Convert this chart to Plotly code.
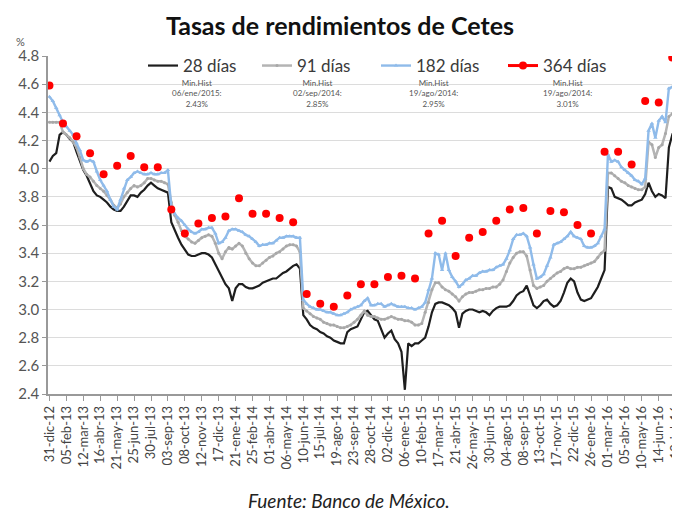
import plotly.graph_objects as go
import pandas as pd

# Weekly auction yields (%), 31-dic-12 onward
r28 = [4.05, 4.09, 4.11, 4.24, 4.26, 4.24, 4.21, 4.19, 4.12, 4.05,
       3.99, 3.95, 3.90, 3.84, 3.81, 3.80, 3.78, 3.76, 3.73, 3.71,
       3.70, 3.70, 3.73, 3.77, 3.81, 3.81, 3.80, 3.83, 3.85, 3.88,
       3.90, 3.88, 3.86, 3.85, 3.84, 3.83, 3.62, 3.56, 3.51, 3.46,
       3.42, 3.39, 3.38, 3.38, 3.39, 3.40, 3.40, 3.39, 3.37, 3.32,
       3.27, 3.22, 3.18, 3.15, 3.06, 3.15, 3.18, 3.18, 3.16, 3.15,
       3.15, 3.16, 3.17, 3.19, 3.20, 3.21, 3.22, 3.22, 3.24, 3.26,
       3.27, 3.29, 3.31, 3.32, 3.29, 2.96, 2.93, 2.89, 2.87, 2.86,
       2.84, 2.83, 2.81, 2.80, 2.78, 2.77, 2.76, 2.76, 2.84, 2.86,
       2.87, 2.88, 2.93, 2.98, 2.99, 2.96, 2.93, 2.92, 2.86, 2.80,
       2.83, 2.85, 2.79, 2.76, 2.70, 2.43, 2.76, 2.74, 2.76, 2.76,
       2.78, 2.80, 2.88, 2.98, 3.04, 3.05, 3.05, 3.04, 3.03, 3.01,
       2.98, 2.87, 2.97, 2.99, 3.00, 3.00, 2.99, 2.98, 2.99, 2.98,
       2.96, 2.99, 3.01, 3.02, 3.02, 3.02, 3.03, 3.06, 3.10, 3.12,
       3.13, 3.17, 3.10, 3.03, 3.01, 3.03, 3.06, 3.07, 3.04, 3.02,
       3.03, 3.06, 3.12, 3.19, 3.22, 3.20, 3.12, 3.07, 3.06, 3.07,
       3.08, 3.12, 3.16, 3.22, 3.28, 3.87, 3.86, 3.80, 3.79, 3.78,
       3.76, 3.74, 3.74, 3.76, 3.77, 3.78, 3.82, 3.90, 3.84, 3.80,
       3.82, 3.81, 3.79, 4.15, 4.24, 4.22, 4.21]

r91 = [4.33, 4.33, 4.33, 4.33, 4.26, 4.24, 4.22, 4.19, 4.15, 4.08,
       4.00, 3.96, 3.94, 3.91, 3.88, 3.86, 3.84, 3.81, 3.78, 3.74,
       3.72, 3.75, 3.80, 3.83, 3.86, 3.88, 3.87, 3.88, 3.90, 3.93,
       3.93, 3.92, 3.91, 3.91, 3.90, 3.89, 3.76, 3.67, 3.62, 3.56,
       3.52, 3.50, 3.48, 3.47, 3.49, 3.51, 3.52, 3.53, 3.52, 3.47,
       3.40, 3.36, 3.41, 3.44, 3.43, 3.45, 3.47, 3.45, 3.40, 3.36,
       3.33, 3.31, 3.31, 3.33, 3.35, 3.37, 3.38, 3.40, 3.41, 3.43,
       3.45, 3.46, 3.46, 3.45, 3.41, 3.01, 2.99, 2.97, 2.95, 2.94,
       2.93, 2.91, 2.90, 2.89, 2.89, 2.88, 2.87, 2.87, 2.88, 2.89,
       2.91, 2.93, 2.96, 2.99, 2.96, 2.95, 2.95, 2.94, 2.93, 2.93,
       2.94, 2.95, 2.94, 2.93, 2.93, 2.92, 2.92, 2.91, 2.89, 2.89,
       2.90, 2.98, 3.05, 3.14, 3.19, 3.19, 3.16, 3.14, 3.13, 3.11,
       3.09, 3.06, 3.09, 3.11, 3.12, 3.12, 3.13, 3.14, 3.14, 3.15,
       3.15, 3.16, 3.16, 3.18, 3.21, 3.27, 3.33, 3.37, 3.40, 3.41,
       3.41, 3.38, 3.28, 3.17, 3.15, 3.16, 3.17, 3.20, 3.22, 3.24,
       3.26, 3.27, 3.29, 3.30, 3.29, 3.29, 3.30, 3.30, 3.31, 3.32,
       3.33, 3.34, 3.37, 3.40, 3.42, 3.97, 3.97, 3.95, 3.93, 3.91,
       3.90, 3.88, 3.87, 3.86, 3.85, 3.85, 3.87, 4.19, 4.17, 4.08,
       4.15, 4.17, 4.25, 4.37, 4.39, 4.39, 4.39]

r182 = [4.51, 4.48, 4.43, 4.38, 4.33, 4.30, 4.27, 4.24, 4.18, 4.13,
        4.06, 4.05, 4.06, 4.05, 3.98, 3.92, 3.88, 3.84, 3.78, 3.73,
        3.71, 3.78, 3.86, 3.92, 3.94, 3.97, 3.98, 3.97, 3.96, 3.96,
        3.97, 3.96, 3.96, 3.97, 3.97, 3.99, 3.73, 3.68, 3.65, 3.63,
        3.60, 3.57, 3.55, 3.54, 3.55, 3.57, 3.57, 3.58, 3.58, 3.54,
        3.47, 3.48, 3.51, 3.56, 3.57, 3.57, 3.56, 3.55, 3.53, 3.52,
        3.50, 3.48, 3.45, 3.46, 3.46, 3.47, 3.47, 3.49, 3.51, 3.51,
        3.52, 3.52, 3.52, 3.51, 3.51, 3.07, 3.04, 3.02, 3.01, 3.00,
        3.00, 2.99, 2.98, 2.98, 2.97, 2.96, 2.96, 2.97, 2.98, 3.00,
        3.01, 3.02, 3.03, 3.06, 3.08, 3.03, 3.03, 3.04, 3.04, 3.02,
        3.03, 3.04, 3.03, 3.02, 3.02, 3.02, 3.01, 3.01, 3.00, 3.01,
        3.02, 3.05, 3.14, 3.22, 3.40, 3.39, 3.28, 3.40, 3.28, 3.23,
        3.20, 3.16, 3.18, 3.21, 3.22, 3.24, 3.24, 3.26, 3.27, 3.27,
        3.28, 3.28, 3.30, 3.31, 3.32, 3.36, 3.42, 3.50, 3.53, 3.53,
        3.54, 3.52, 3.44, 3.32, 3.22, 3.23, 3.25, 3.31, 3.37, 3.46,
        3.47, 3.48, 3.50, 3.52, 3.55, 3.52, 3.51, 3.50, 3.45, 3.44,
        3.44, 3.45, 3.47, 3.52, 3.57, 4.10, 4.05, 4.06, 4.05, 4.01,
        3.99, 3.97, 3.95, 3.92, 3.91, 3.89, 3.93, 4.27, 4.32, 4.22,
        4.34, 4.37, 4.33, 4.57, 4.58, 4.58, 4.58]

# 364-day auctions (every 4 weeks)
r364 = [4.59, 4.32, 4.23, 4.11, 3.96, 4.02, 4.09, 4.01, 4.01, 3.71,
        3.54, 3.61, 3.65, 3.66, 3.79, 3.68, 3.68, 3.65, 3.62, 3.11,
        3.04, 3.02, 3.10, 3.18, 3.18, 3.23, 3.24, 3.22, 3.54, 3.63,
        3.38, 3.51, 3.55, 3.63, 3.71, 3.72, 3.54, 3.70, 3.69, 3.60,
        3.54, 4.12, 4.12, 4.03, 4.48, 4.47, 4.79]

tick_labels = ["31-dic-12", "05-feb-13", "12-mar-13", "16-abr-13", "21-may-13",
               "25-jun-13", "30-jul-13", "03-sep-13", "08-oct-13", "12-nov-13",
               "17-dic-13", "21-ene-14", "25-feb-14", "01-abr-14", "06-may-14",
               "10-jun-14", "15-jul-14", "19-ago-14", "23-sep-14", "28-oct-14",
               "02-dic-14", "06-ene-15", "10-feb-15", "17-mar-15", "21-abr-15",
               "26-may-15", "30-jun-15", "04-ago-15", "08-sep-15", "13-oct-15",
               "17-nov-15", "22-dic-15", "26-ene-16", "01-mar-16", "05-abr-16",
               "10-may-16", "14-jun-16", "19-jul-16"]

series_names = ["28 días", "91 días", "182 días", "364 días"]
min_hist = ["Min.Hist<br>06/ene/2015:<br>2.43%",
            "Min.Hist<br>02/sep/2014:<br>2.85%",
            "Min.Hist<br>19/ago/2014:<br>2.95%",
            "Min.Hist<br>19/ago/2014:<br>3.01%"]

dates = pd.date_range("2012-12-31", periods=len(r28), freq="7D")
dates364 = dates[::4][:len(r364)]
tickvals = list(dates[::5][:len(tick_labels)])

fig = go.Figure()
fig.add_trace(go.Scatter(x=dates, y=r28, mode="lines", name=series_names[0],
                         line=dict(color="#1e1e1e", width=2.2), legend="legend"))
fig.add_trace(go.Scatter(x=dates, y=r91, mode="lines+markers", name=series_names[1],
                         line=dict(color="#b4b4b4", width=2.5),
                         marker=dict(size=3, color="#a8a8a8"), legend="legend2"))
fig.add_trace(go.Scatter(x=dates, y=r182, mode="lines+markers", name=series_names[2],
                         line=dict(color="#8fbbea", width=2.4),
                         marker=dict(symbol="triangle-up", size=4, color="#8fbbea"),
                         legend="legend3"))
fig.add_trace(go.Scatter(x=dates364, y=r364, mode="markers", showlegend=False,
                         marker=dict(color="#ff0000", size=8)))
fig.add_trace(go.Scatter(x=[None], y=[None], mode="lines+markers", name=series_names[3],
                         line=dict(color="#ff0000", width=3),
                         marker=dict(color="#ff0000", size=8), legend="legend4"))

FONT = "Lato, 'Open Sans', sans-serif"
# The page body adds an 8px offset; positions below are in window pixels.
OFF = 8
FIG_W, FIG_H = 680 - OFF, 514 - OFF
L, T, W, H = 48, 56, 632, 338   # plot area in window pixels

def px_x(p):
    return (p - L) / W

def px_y(p):
    return (T + H - p) / H

leg_common = dict(orientation="h", xanchor="left", yanchor="top",
                  bgcolor="rgba(0,0,0,0)", itemwidth=30,
                  font=dict(family=FONT, size=17, color="#3a3a3a"))
leg_x = [143, 257, 376, 503]
legends = {}
for i, key in enumerate(["legend", "legend2", "legend3", "legend4"]):
    legends[key] = dict(leg_common, x=px_x(leg_x[i]), y=px_y(48))

annotations = [
    dict(text="%", x=px_x(20), y=px_y(41), xref="paper", yref="paper",
         xanchor="center", yanchor="middle",
         showarrow=False, font=dict(family=FONT, size=11, color="#555")),
    dict(text="<i>Fuente: Banco de México.</i>", x=px_x(349), y=px_y(500),
         xref="paper", yref="paper", xanchor="center", yanchor="middle",
         showarrow=False, font=dict(family=FONT, size=19, color="#222")),
]
mh_x = [197, 317, 433, 567]
for i, t in enumerate(min_hist):
    annotations.append(dict(text=t, x=px_x(mh_x[i]), y=px_y(93), xref="paper", yref="paper",
                            xanchor="center", yanchor="middle",
                            showarrow=False, align="center",
                            font=dict(family=FONT, size=8, color="#555")))

fig.update_layout(
    width=FIG_W, height=FIG_H,
    margin=dict(l=L - OFF, r=FIG_W - (L - OFF) - W, t=T - OFF,
                b=FIG_H - (T - OFF) - H, autoexpand=False),
    paper_bgcolor="white", plot_bgcolor="white",
    title=dict(text="<b>Tasas de rendimientos de Cetes</b>",
               x=(340 - OFF) / FIG_W, xanchor="center", xref="container",
               y=1 - (26 - OFF) / FIG_H, yanchor="middle",
               font=dict(family=FONT, size=25, color="#111")),
    annotations=annotations,
    shapes=[dict(type="rect", xref="paper", yref="paper",
                 x0=px_x(137), x1=px_x(627), y0=px_y(108), y1=1.02,
                 fillcolor="white", line=dict(width=0), layer="between")],
    **legends,
)

fig.update_xaxes(type="date", automargin=False, ticklabeloverflow="allow",
                 range=[dates[0] - pd.Timedelta(days=3), dates[-1] + pd.Timedelta(days=2)],
                 tickmode="array", tickvals=tickvals, ticktext=tick_labels,
                 tickangle=-90, ticks="outside", ticklen=5, tickcolor="#999",
                 showline=True, linecolor="#999", linewidth=1.5, showgrid=False,
                 tickfont=dict(family=FONT, size=13, color="#444"))
fig.update_yaxes(range=[2.4, 4.8], dtick=0.2, tick0=2.4, tickformat=".1f",
                 automargin=False,
                 showgrid=True, gridcolor="#dcdcdc", gridwidth=1,
                 showline=True, linecolor="#999", linewidth=1.5,
                 ticks="outside", ticklen=4, tickcolor="#999", zeroline=False,
                 tickfont=dict(family=FONT, size=15, color="#555"))

fig.write_html("out.html")
